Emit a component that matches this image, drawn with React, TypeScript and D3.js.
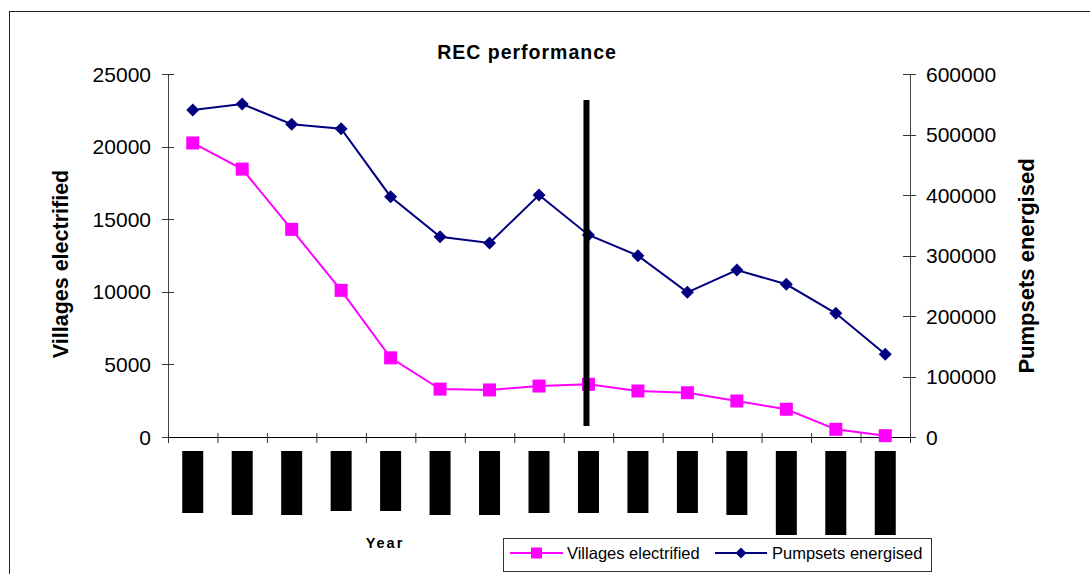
import React from "react";
import * as d3 from "d3";

// Fifteen yearly periods; the year labels are blacked out on the axis.
const periods = [
  "P01", "P02", "P03", "P04", "P05", "P06", "P07", "P08",
  "P09", "P10", "P11", "P12", "P13", "P14", "P15",
];

// Villages electrified per period (left axis)
const villagesElectrified = [
  20250, 18450, 14300, 10100, 5450, 3300, 3240, 3510,
  3630, 3170, 3050, 2480, 1910, 530, 90,
];

// Pumpsets energised per period (right axis)
const pumpsetsEnergised = [
  540500, 550400, 516900, 509600, 397200, 331100, 320700, 400000,
  333900, 299700, 239100, 276000, 252400, 204500, 136700,
];

const leftTicks = [0, 5000, 10000, 15000, 20000, 25000];
const rightTicks = [0, 100000, 200000, 300000, 400000, 500000, 600000];

// Depth of the redaction blocks that cover each year label
const labelBlockDepth = [62, 64, 64, 60, 60, 64, 64, 62, 62, 62, 62, 64, 84, 84, 84];

const FONT = "'Liberation Sans', Arial, Helvetica, sans-serif";
const PINK = "#FF00FF";
const NAVY = "#000080";

export default function App() {
  const W = 1090;
  const H = 574;
  const plot = { left: 168, right: 910, top: 74, bottom: 437 };

  const x = d3
    .scaleBand<string>()
    .domain(periods)
    .range([plot.left, plot.right])
    .paddingInner(0)
    .paddingOuter(0);
  const cx = (p: string) => (x(p) as number) + x.bandwidth() / 2;

  const yL = d3.scaleLinear().domain([0, 25000]).range([plot.bottom, plot.top]);
  const yR = d3.scaleLinear().domain([0, 600000]).range([plot.bottom, plot.top]);

  const villageLine = d3
    .line<number>()
    .x((_, i) => cx(periods[i]))
    .y((d) => yL(d))(villagesElectrified) as string;
  const pumpLine = d3
    .line<number>()
    .x((_, i) => cx(periods[i]))
    .y((d) => yR(d))(pumpsetsEnergised) as string;

  const boundaries = periods.map((p) => x(p) as number).concat([plot.right]);

  const square = (px: number, py: number, key: string | number, s = 13) => (
    <rect key={key} x={px - s / 2} y={py - s / 2} width={s} height={s} fill={PINK} />
  );
  const diamond = (px: number, py: number, key: string | number, r = 6.5) => (
    <path
      key={key}
      d={`M${px},${py - r}L${px + r},${py}L${px},${py + r}L${px - r},${py}Z`}
      fill={NAVY}
    />
  );

  // Thick marker line drawn at the ninth period
  const markX = cx(periods[8]) - 2;

  return (
    <svg
      width={W}
      height={H}
      style={{ position: "absolute", left: 0, top: 0, background: "#fff" }}
      fontFamily={FONT}
    >
      <rect x={0} y={0} width={W} height={H} fill="#fff" />
      {/* chart frame */}
      <rect x={9.5} y={11.5} width={1200} height={700} fill="none" stroke="#222" strokeWidth={1} />

      {/* title */}
      <text x={527} y={59} textAnchor="middle" fontSize={19.5} fontWeight="bold" letterSpacing={1} fill="#000">
        REC performance
      </text>

      {/* left axis */}
      <line x1={plot.left + 0.5} x2={plot.left + 0.5} y1={plot.top} y2={plot.bottom} stroke="#444" />
      {leftTicks.map((t) => (
        <g key={`l${t}`}>
          <line x1={162} x2={174} y1={Math.round(yL(t)) + 0.5} y2={Math.round(yL(t)) + 0.5} stroke="#333" />
          <text x={151} y={yL(t)} dy="0.36em" textAnchor="end" fontSize={21} fill="#000">
            {t}
          </text>
        </g>
      ))}
      <text
        transform={`translate(68,264) rotate(-90)`}
        textAnchor="middle"
        fontSize={21.5}
        fontWeight="bold"
        fill="#000"
      >
        Villages electrified
      </text>

      {/* right axis */}
      <line x1={plot.right + 0.5} x2={plot.right + 0.5} y1={plot.top} y2={plot.bottom} stroke="#444" />
      {rightTicks.map((t) => (
        <g key={`r${t}`}>
          <line x1={903} x2={916} y1={Math.round(yR(t)) + 0.5} y2={Math.round(yR(t)) + 0.5} stroke="#333" />
          <text x={926} y={yR(t)} dy="0.36em" textAnchor="start" fontSize={21} fill="#000">
            {t}
          </text>
        </g>
      ))}
      <text
        transform={`translate(1034,266) rotate(-90)`}
        textAnchor="middle"
        fontSize={22}
        fontWeight="bold"
        fill="#000"
      >
        Pumpsets energised
      </text>

      {/* category axis */}
      <line x1={plot.left} x2={plot.right + 1} y1={plot.bottom + 0.5} y2={plot.bottom + 0.5} stroke="#000" />
      {boundaries.map((b, i) => (
        <line key={`t${i}`} x1={b + 0.5} x2={b + 0.5} y1={433} y2={443} stroke="#333" />
      ))}
      {periods.map((p, i) => (
        <rect
          key={`lbl${p}`}
          x={cx(p) - 10.5}
          y={451}
          width={21}
          height={labelBlockDepth[i]}
          fill="#000"
        />
      ))}
      <text x={385} y={548} textAnchor="middle" fontSize={14.5} fontWeight="bold" letterSpacing={2} fill="#000">
        Year
      </text>

      {/* series */}
      <path d={pumpLine} fill="none" stroke={NAVY} strokeWidth={2} />
      {pumpsetsEnergised.map((v, i) => diamond(cx(periods[i]), yR(v), `d${i}`))}
      <path d={villageLine} fill="none" stroke={PINK} strokeWidth={2} />
      {villagesElectrified.map((v, i) => square(cx(periods[i]), yL(v), `s${i}`))}

      {/* marker line */}
      <line x1={markX} x2={markX} y1={100} y2={426} stroke="#000" strokeWidth={6} />

      {/* legend */}
      <rect x={503.5} y={538.5} width={428} height={33} fill="#fff" stroke="#333" />
      <line x1={510} x2={563} y1={553} y2={553} stroke={PINK} strokeWidth={2} />
      {square(536.5, 553, "ls", 11)}
      <text x={567} y={558.5} fontSize={16.5} fill="#000">
        Villages electrified
      </text>
      <line x1={715} x2={767} y1={553} y2={553} stroke={NAVY} strokeWidth={2} />
      {diamond(741, 553, "ld", 5.5)}
      <text x={772} y={558.5} fontSize={16.5} fill="#000">
        Pumpsets energised
      </text>
    </svg>
  );
}
